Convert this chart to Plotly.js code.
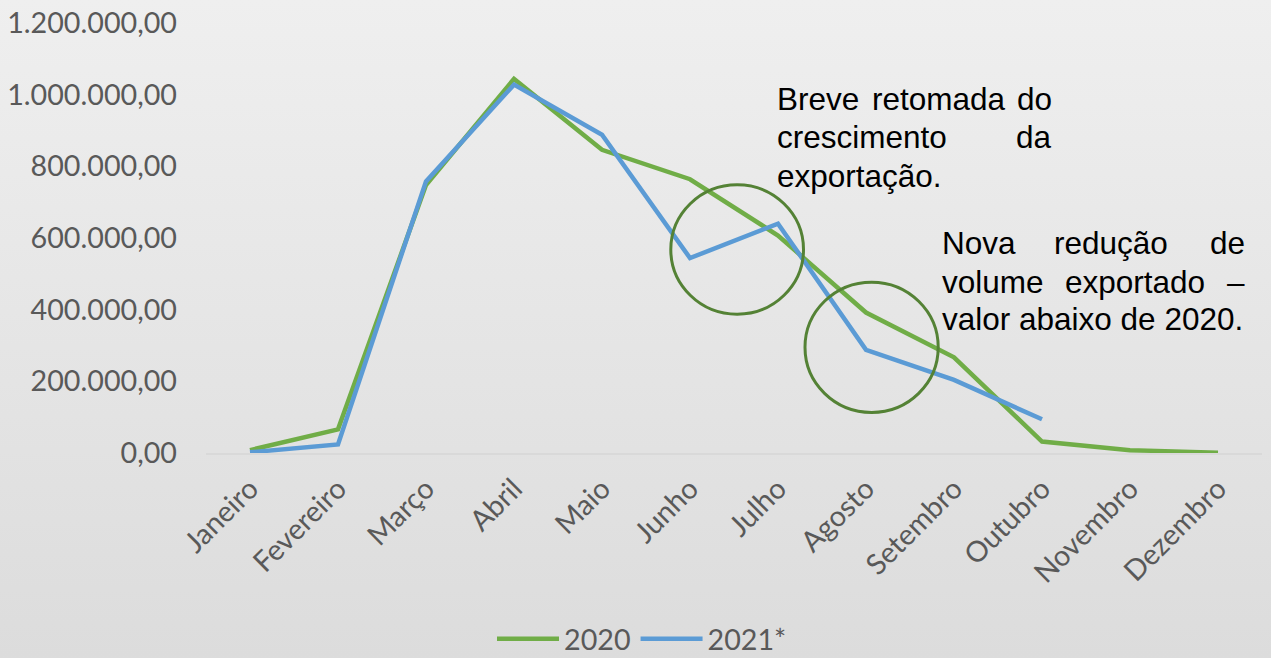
<!DOCTYPE html>
<html>
<head>
<meta charset="utf-8">
<script src="https://cdn.plot.ly/plotly-3.0.1.min.js"></script>
<style>
  html, body { margin: 0; padding: 0; }
  body { width: 1271px; height: 658px; background: linear-gradient(#efefef, #dcdcdc); overflow: hidden; }
  #chart { width: 1271px; height: 658px; }
</style>
</head>
<body>
<div id="chart"></div>
<script>
const months = ['Janeiro','Fevereiro','Março','Abril','Maio','Junho','Julho','Agosto','Setembro','Outubro','Novembro','Dezembro'];
const months2021 = months.slice(0, 10);
const values2020 = [8000, 66000, 748000, 1044000, 846000, 764000, 607000, 392000, 267000, 32000, 8000, 1000];
const values2021 = [2000, 24000, 758000, 1028000, 888000, 544000, 640000, 288000, 204000, 94000];
const seriesNames = ['2020', '2021*'];

const W = 1271, H = 658;
const M = {l: 206, r: 9, t: 23, b: 205, autoexpand: false};
const PW = W - M.l - M.r, PH = H - M.t - M.b;
function px(x) { return (x - M.l) / PW; }
function py(y) { return (H - M.b - y) / PH; }

const textFont = {family: 'Liberation Sans, Arial, sans-serif', size: 31.5, color: '#000000'};
function word(text, x, y, anchor) {
  return {text: text, xref: 'paper', yref: 'paper', x: px(x), y: py(y),
          xanchor: anchor, yanchor: 'middle', showarrow: false, font: textFont, borderpad: 0};
}
const annotations = [
  word('Breve', 776, 99, 'left'), word('retomada', 871, 99, 'left'), word('do', 1053, 99, 'right'),
  word('crescimento', 776, 137.3, 'left'), word('da', 1053, 137.3, 'right'),
  word('exportação.', 776, 175.7, 'left'),
  word('Nova', 941, 243.3, 'left'), word('redução', 1053, 243.3, 'left'), word('de', 1245.5, 243.3, 'right'),
  word('volume', 941, 281.7, 'left'), word('exportado', 1064, 281.7, 'left'), word('–', 1245.5, 281.7, 'right'),
  word('valor abaixo de 2020.', 941, 319, 'left')
];

function circle(x0, y0, x1, y1) {
  return {type: 'circle', xref: 'paper', yref: 'paper',
          x0: px(x0), x1: px(x1), y0: py(y1), y1: py(y0),
          line: {color: '#548235', width: 3}, fillcolor: 'rgba(0,0,0,0)'};
}

const tickFont = {family: 'Lato, sans-serif', size: 28.7, color: '#595959'};

const data = [
  {x: months, y: values2020, name: seriesNames[0], type: 'scatter', mode: 'lines',
   line: {color: '#70AD47', width: 4.5}},
  {x: months2021, y: values2021, name: seriesNames[1], type: 'scatter', mode: 'lines',
   line: {color: '#5B9BD5', width: 4.5}}
];

const layout = {
  width: W, height: H,
  margin: M,
  paper_bgcolor: 'rgba(0,0,0,0)',
  plot_bgcolor: 'rgba(0,0,0,0)',
  separators: ',.',
  showlegend: true,
  legend: {orientation: 'h', x: px(642), xanchor: 'center', y: py(639), yanchor: 'middle',
           font: tickFont, bgcolor: 'rgba(0,0,0,0)', itemwidth: 62},
  xaxis: {type: 'category', categoryarray: months, range: [-0.5, 11.5], automargin: false,
          tickangle: -45, tickfont: tickFont, showgrid: false, zeroline: false,
          showline: true, linecolor: '#d9d9d9', linewidth: 1.5, ticks: '', ticklabelstandoff: 6},
  yaxis: {range: [0, 1200000], dtick: 200000, tickformat: ',.2f', tickfont: tickFont, automargin: false,
          showgrid: false, zeroline: false, showline: false, ticks: '', ticklabelstandoff: 28},
  annotations: annotations,
  shapes: [circle(670.8, 184.8, 803.5, 314.2), circle(805, 282.2, 938.2, 412.5)]
};

Plotly.newPlot('chart', data, layout, {displayModeBar: false, staticPlot: true});
</script>
</body>
</html>
